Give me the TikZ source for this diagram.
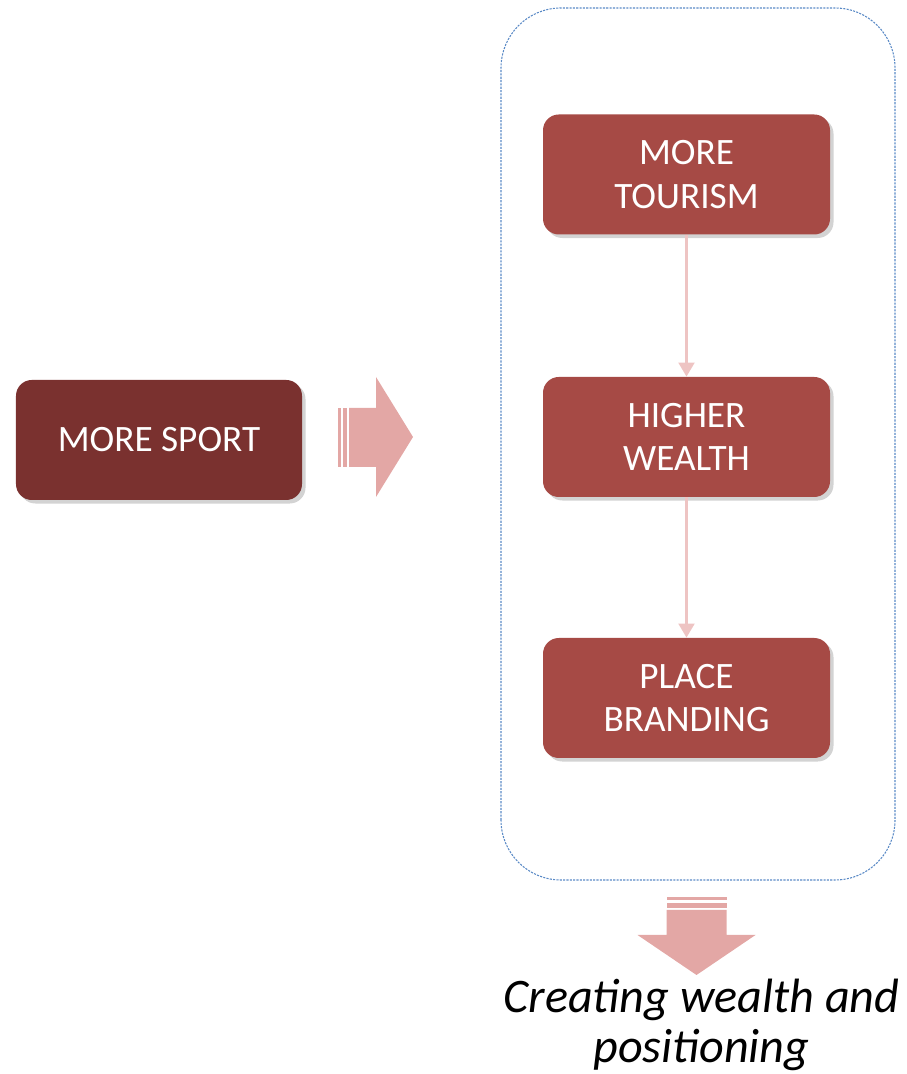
\documentclass[tikz,border=0pt]{standalone}
\usepackage{fontspec}
\setmainfont{Carlito}
\usetikzlibrary{positioning,shadows,arrows.meta}
\definecolor{darkred}{HTML}{7A312F}
\definecolor{boxred}{HTML}{A64A45}
\definecolor{blockpink}{HTML}{E3A7A5}
\definecolor{linkpink}{HTML}{EEC4C3}
\definecolor{frameblue}{HTML}{5A8AC6}
\tikzset{
  stepbox/.style={rounded corners=9pt, minimum width=5.74cm, minimum height=2.4cm,
    text=white, align=center, font=\fontsize{21.2}{24.6}\selectfont,
    drop shadow={opacity=0.35, shadow xshift=2pt, shadow yshift=-2pt}},
  link/.style={linkpink, line width=1.5pt, -{Triangle[length=8pt,width=9pt]}}
}
\begin{document}
\begin{tikzpicture}
\useasboundingbox (0,0) rectangle (18.12,21.48);
%outer frame
\draw[frameblue, line width=0.6pt, dash pattern=on 1.2pt off 0.7pt, rounded corners=1.2cm]
  (10.02,3.88) rectangle (17.9,21.32);
%boxes
\node[stepbox, fill=boxred] (tourism) at (13.73,17.99) {MORE\\TOURISM};
\node[stepbox, fill=boxred] (wealth) at (13.73,12.74) {HIGHER\\WEALTH};
\node[stepbox, fill=boxred] (brand) at (13.73,7.52) {PLACE\\BRANDING};
\node[stepbox, fill=darkred, minimum width=5.72cm] (sport) at (3.18,12.68) {MORE SPORT};
%links
\draw[link] (tourism) -- (wealth);
\draw[link] (wealth) -- (brand);
%right block arrow
\pgfmathsetmacro{\ax}{6.74}
\pgfmathsetmacro{\hx}{7.52}  %base of the head
\fill[blockpink] (\ax+0.02,12.14) rectangle (\ax+0.08,13.32);
\fill[blockpink] (\ax+0.12,12.14) rectangle (\ax+0.2,13.32);
\fill[blockpink] (\ax+0.24,12.14) -- (\hx,12.14) -- (\hx,11.54) -- (8.26,12.74)
  -- (\hx,13.94) -- (\hx,13.32) -- (\ax+0.24,13.32) -- cycle;
%down block arrow
\pgfmathsetmacro{\cx}{13.93}
\fill[blockpink] (\cx-0.6,3.48) rectangle (\cx+0.6,3.54);
\fill[blockpink] (\cx-0.6,3.32) rectangle (\cx+0.6,3.42);
\fill[blockpink] (\cx-0.6,3.28) -- (\cx+0.6,3.28) -- (\cx+0.6,2.78) -- (\cx+1.18,2.78)
  -- (\cx,1.98) -- (\cx-1.18,2.78) -- (\cx-0.6,2.78) -- cycle;
%text
\node[align=center, font=\fontsize{27.4}{28.5}\selectfont\itshape] (result) at (14.03,0.98)
  {Creating wealth and\\positioning};
\end{tikzpicture}
\end{document}
